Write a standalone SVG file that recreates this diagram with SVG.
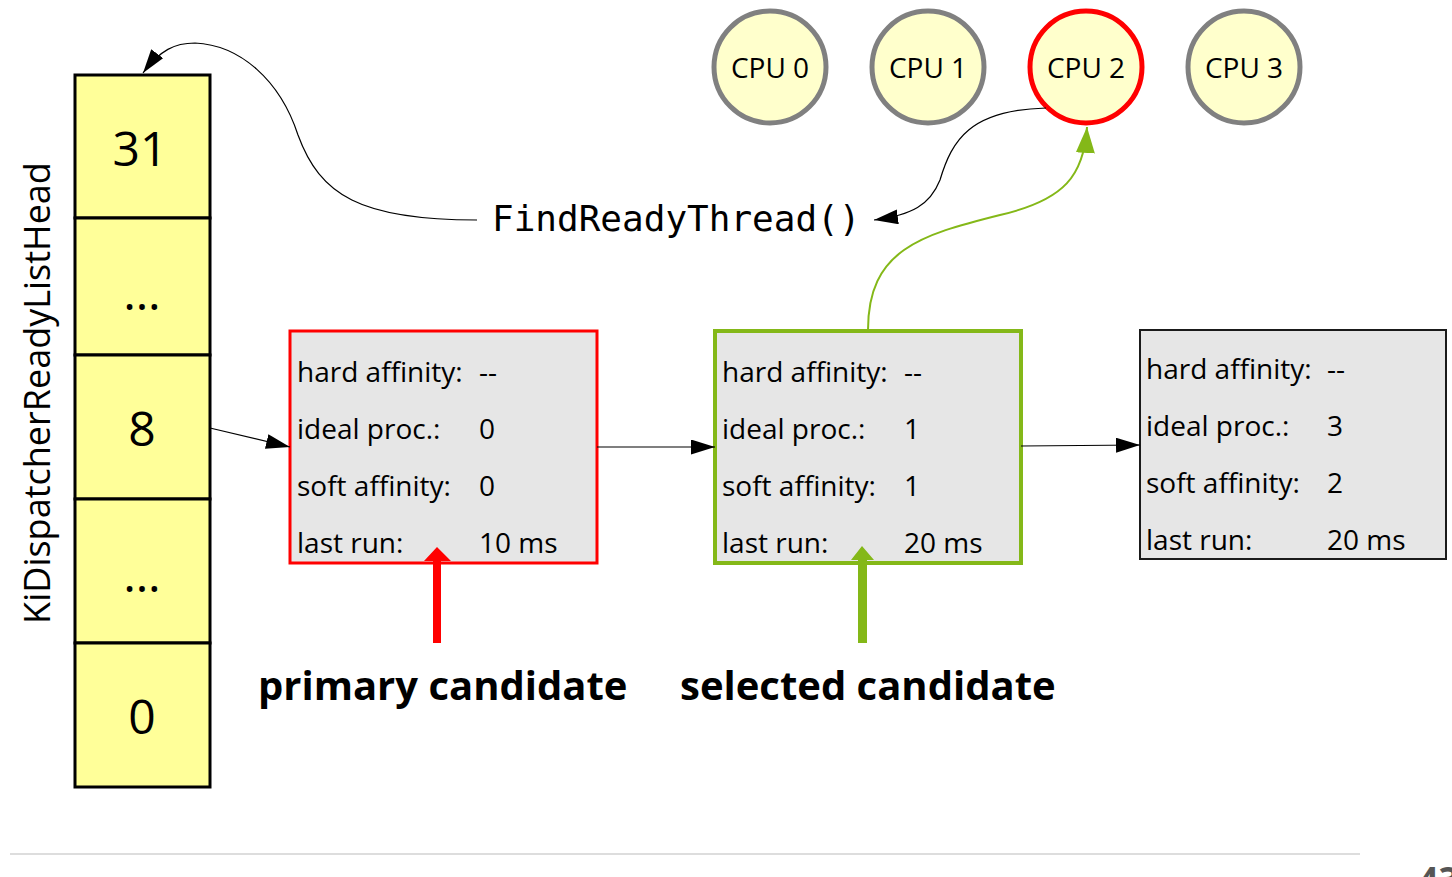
<svg xmlns="http://www.w3.org/2000/svg" width="1452" height="877" viewBox="0 0 1452 877">
<defs>
<style>
text{font-family:"Open Sans","Noto Sans","DejaVu Sans",sans-serif;fill:#000}
.mono{font-family:"DejaVu Sans Mono","Liberation Mono",monospace;font-size:36px}
.cell{fill:#ffff99;stroke:#000;stroke-width:3}
.num{font-size:48px;text-anchor:middle}
.cpu{fill:#ffffcc;stroke:#808080;stroke-width:5}
.cpu.sel{stroke:#ff0000}
.cpul{font-size:28px;text-anchor:middle}
.box{fill:#e6e6e6}
.bt{font-size:28px}
.lbl{font-size:40px;font-weight:bold}
.thin{fill:none;stroke:#000;stroke-width:1.2}
.pg{font-size:36px;font-weight:bold;fill:#555}
</style>
<marker id="ah" viewBox="0 0 24 15" refX="24" refY="7.5" markerWidth="24" markerHeight="15" markerUnits="userSpaceOnUse" orient="auto"><path d="M0,0 L24,7.5 L0,15 z" fill="#000"/></marker>
<marker id="ahg" viewBox="0 0 26 19" refX="26" refY="9.5" markerWidth="26" markerHeight="19" markerUnits="userSpaceOnUse" orient="auto"><path d="M0,0 L26,9.5 L0,19 z" fill="#84b818"/></marker>
</defs>
<rect width="1452" height="877" fill="#fff"/>

<g id="readylist">
<rect class="cell" x="75" y="75" width="135" height="143"/>
<rect class="cell" x="75" y="218" width="135" height="137"/>
<rect class="cell" x="75" y="355" width="135" height="144"/>
<rect class="cell" x="75" y="499" width="135" height="144"/>
<rect class="cell" x="75" y="643" width="135" height="144"/>
<text class="num" x="140" y="166">31</text>
<text class="num" x="142" y="310">…</text>
<text class="num" x="142" y="446">8</text>
<text class="num" x="142" y="592">…</text>
<text class="num" x="142" y="734">0</text>
<text x="50" y="393" font-size="36" text-anchor="middle" transform="rotate(-90 50 393)">KiDispatcherReadyListHead</text>
</g>

<g id="cpu0"><circle class="cpu" cx="770" cy="67" r="56"/><text class="cpul" x="770" y="78">CPU 0</text></g>
<g id="cpu1"><circle class="cpu" cx="928" cy="67" r="56"/><text class="cpul" x="928" y="78">CPU 1</text></g>
<g id="cpu2"><circle class="cpu sel" cx="1086" cy="67" r="56"/><text class="cpul" x="1086" y="78">CPU 2</text></g>
<g id="cpu3"><circle class="cpu" cx="1244" cy="67" r="56"/><text class="cpul" x="1244" y="78">CPU 3</text></g>

<g id="findreadythread"><text class="mono" x="492" y="231">FindReadyThread()</text></g>

<g id="thread1">
<rect class="box" x="290" y="331" width="307" height="232" stroke="#ff0000" stroke-width="3"/>
<text class="bt" x="297" y="382">hard affinity:</text><text class="bt" x="479" y="382">--</text>
<text class="bt" x="297" y="439">ideal proc.:</text><text class="bt" x="479" y="439">0</text>
<text class="bt" x="297" y="496">soft affinity:</text><text class="bt" x="479" y="496">0</text>
<text class="bt" x="297" y="553">last run:</text><text class="bt" x="479" y="553">10 ms</text>
</g>
<g id="thread2">
<rect class="box" x="715" y="331" width="306" height="232" stroke="#84b818" stroke-width="4"/>
<text class="bt" x="722" y="382">hard affinity:</text><text class="bt" x="904" y="382">--</text>
<text class="bt" x="722" y="439">ideal proc.:</text><text class="bt" x="904" y="439">1</text>
<text class="bt" x="722" y="496">soft affinity:</text><text class="bt" x="904" y="496">1</text>
<text class="bt" x="722" y="553">last run:</text><text class="bt" x="904" y="553">20 ms</text>
</g>
<g id="thread3">
<rect class="box" x="1140" y="330" width="306" height="229" stroke="#1a1a1a" stroke-width="2"/>
<text class="bt" x="1146" y="379">hard affinity:</text><text class="bt" x="1327" y="379">--</text>
<text class="bt" x="1146" y="436">ideal proc.:</text><text class="bt" x="1327" y="436">3</text>
<text class="bt" x="1146" y="493">soft affinity:</text><text class="bt" x="1327" y="493">2</text>
<text class="bt" x="1146" y="550">last run:</text><text class="bt" x="1327" y="550">20 ms</text>
</g>

<g id="primary-label"><text class="lbl" x="258" y="700">primary candidate</text></g>
<g id="selected-label"><text class="lbl" x="680" y="700">selected candidate</text></g>

<g id="connectors">
<path class="thin" d="M477 220 C 360 220, 320 195, 298 135 C 280 80, 240 45, 195 43 C 175 43, 160 50, 143 73" marker-end="url(#ah)"/>
<path class="thin" d="M1046 108 C 970 110, 952 140, 940 180 C 930 205, 912 215, 874 220" marker-end="url(#ah)"/>
<path fill="none" stroke="#84b818" stroke-width="2" d="M868 330 C 868 250, 920 235, 1000 215 C 1065 200, 1084 175, 1087 127" marker-end="url(#ahg)"/>
<path class="thin" d="M210 428 L290 447" marker-end="url(#ah)"/>
<path class="thin" d="M597 447 L715 447" marker-end="url(#ah)"/>
<path class="thin" d="M1021 446 L1140 445" marker-end="url(#ah)"/>
<path d="M433 643 L433 561 L424 561 L437 547 L451 561 L441 561 L441 643 Z" fill="#ff0000"/>
<path d="M858 643 L858 560 L851 560 L862 546 L874 560 L867 560 L867 643 Z" fill="#84b818"/>
</g>

<line x1="10" y1="854" x2="1360" y2="854" stroke="#dddddd" stroke-width="2"/>
<text class="pg" x="1418" y="893">43</text>
</svg>
